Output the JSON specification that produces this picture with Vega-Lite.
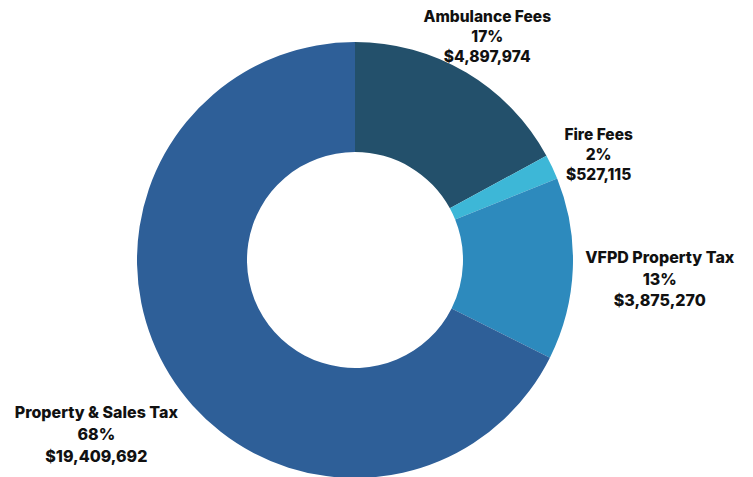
{
  "$schema": "https://vega.github.io/schema/vega-lite/v6.json",
  "width": 710,
  "height": 434,
  "autosize": {"type": "none"},
  "padding": {"left": 0, "top": 43, "right": 43, "bottom": 0},
  "background": "white",
  "view": {"stroke": null},
  "data": {
    "values": [
      {"idx": 1, "category": "Ambulance Fees", "amount": 4897974, "label": "Ambulance Fees\n17%\n$4,897,974"},
      {"idx": 2, "category": "Fire Fees", "amount": 527115, "label": "Fire Fees\n2%\n$527,115"},
      {"idx": 3, "category": "VFPD Property Tax", "amount": 3875270, "label": "VFPD Property Tax\n13%\n$3,875,270"},
      {"idx": 4, "category": "Property & Sales Tax", "amount": 19409692, "label": "Property & Sales Tax\n68%\n$19,409,692"}
    ]
  },
  "encoding": {
    "theta": {"field": "amount", "type": "quantitative", "stack": true},
    "order": {"field": "idx", "type": "quantitative"}
  },
  "layer": [
    {
      "mark": {"type": "arc", "outerRadius": 218, "innerRadius": 108},
      "encoding": {
        "color": {
          "field": "category",
          "type": "nominal",
          "scale": {
            "domain": ["Ambulance Fees", "Fire Fees", "VFPD Property Tax", "Property & Sales Tax"],
            "range": ["#23506b", "#3db7d7", "#2d8abd", "#2e5f98"]
          },
          "legend": null
        }
      }
    },
    {
      "mark": {"type": "text", "radius": 259, "dy": -20, "lineBreak": "\n", "font": "Inter", "fontWeight": 800, "fontSize": 15.5, "lineHeight": 20, "align": "center", "baseline": "middle", "color": "#111111"},
      "encoding": {"text": {"condition": {"test": "datum.idx == 1", "field": "label"}, "value": ""}}
    },
    {
      "mark": {"type": "text", "radius": 265, "dx": 4, "dy": -12, "lineBreak": "\n", "font": "Inter", "fontWeight": 800, "fontSize": 15.5, "lineHeight": 20, "align": "center", "baseline": "middle", "color": "#111111"},
      "encoding": {"text": {"condition": {"test": "datum.idx == 2", "field": "label"}, "value": ""}}
    },
    {
      "mark": {"type": "text", "radius": 305, "dy": -14, "lineBreak": "\n", "font": "Inter", "fontWeight": 800, "fontSize": 16, "lineHeight": 21.5, "align": "center", "baseline": "middle", "color": "#111111"},
      "encoding": {"text": {"condition": {"test": "datum.idx == 3", "field": "label"}, "value": ""}}
    },
    {
      "mark": {"type": "text", "radius": 304, "dy": -7, "lineBreak": "\n", "font": "Inter", "fontWeight": 800, "fontSize": 16, "lineHeight": 22, "align": "center", "baseline": "middle", "color": "#111111"},
      "encoding": {"text": {"condition": {"test": "datum.idx == 4", "field": "label"}, "value": ""}}
    }
  ]
}
